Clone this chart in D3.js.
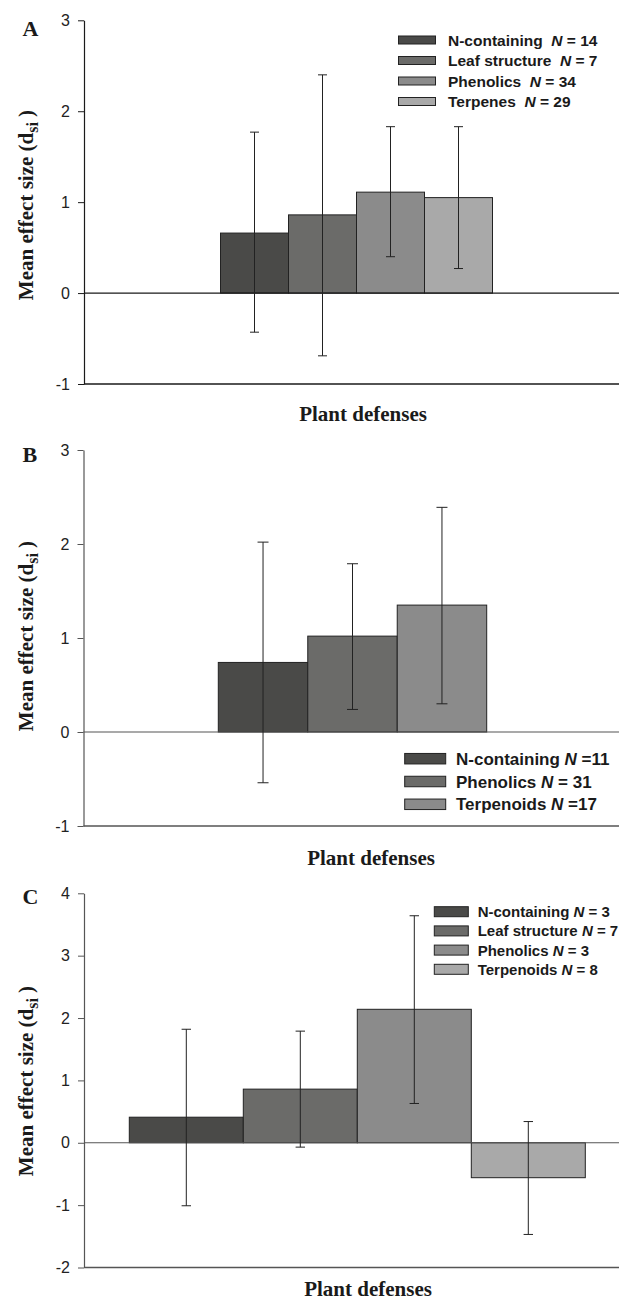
<!DOCTYPE html>
<html>
<head>
<meta charset="utf-8">
<script src="https://cdn.jsdelivr.net/npm/d3@7"></script>
<style>
  html, body { margin: 0; padding: 0; background: #fff; }
  svg { display: block; }
</style>
</head>
<body>
<svg id="chart" width="619" height="1302"></svg>
<script>
// ---------- DATA ----------
// Panel A
const categoriesA = ["N-containing", "Leaf structure", "Phenolics", "Terpenes"];
const nA = [14, 7, 34, 29];
const nSepA = ["  ", "  ", "  ", "  "];
const eqA = [" = 14", " = 7", " = 34", " = 29"];
const meansA = [0.66, 0.86, 1.11, 1.05];
const lowerA = [-0.43, -0.69, 0.40, 0.27];
const upperA = [1.77, 2.40, 1.83, 1.83];
const ticksA = [-1, 0, 1, 2, 3];

// Panel B
const categoriesB = ["N-containing", "Phenolics", "Terpenoids"];
const nB = [11, 31, 17];
const nSepB = [" ", " ", " "];
const eqB = [" =11", " = 31", " =17"];
const meansB = [0.74, 1.02, 1.35];
const lowerB = [-0.54, 0.24, 0.30];
const upperB = [2.02, 1.79, 2.39];
const ticksB = [-1, 0, 1, 2, 3];

// Panel C
const categoriesC = ["N-containing", "Leaf structure", "Phenolics", "Terpenoids"];
const nC = [3, 7, 3, 8];
const nSepC = [" ", " ", " ", " "];
const eqC = [" = 3", " = 7", " = 3", " = 8"];
const meansC = [0.41, 0.86, 2.14, -0.56];
const lowerC = [-1.01, -0.07, 0.63, -1.47];
const upperC = [1.82, 1.79, 3.64, 0.34];
const ticksC = [-2, -1, 0, 1, 2, 3, 4];

const panelLetters = ["A", "B", "C"];
const xTitle = "Plant defenses";
const barColors4 = ["#4a4a48", "#6b6b69", "#8b8b8b", "#a9a9a9"];
const barColors3 = ["#4a4a48", "#6b6b69", "#8b8b8b"];

// ---------- LAYOUT ----------
const panels = [
  { letter: panelLetters[0], cats: categoriesA, means: meansA, lower: lowerA, upper: upperA, ticks: ticksA,
    n: nA, sep: nSepA, eq: eqA, colors: barColors4,
    top: 20.3, bottom: 384, axisX: 84, right: 619, bars: [220.5, 492.5], cap: 4.5, axisColor: "#1a1a1a",
    legend: { x: 398.5, y0: 40, dy: 20.5, w: 37, h: 8, fs: 15.5, textX: 448 },
    title: { x: 363, y: 421 }, ylabY: 205, letterY: 36 },
  { letter: panelLetters[1], cats: categoriesB, means: meansB, lower: lowerB, upper: upperB, ticks: ticksB,
    n: nB, sep: nSepB, eq: eqB, colors: barColors3,
    top: 450, bottom: 826, axisX: 83.5, right: 619, bars: [218.3, 486.7], cap: 5.5, axisColor: "#555",
    legend: { x: 404.7, y0: 758.7, dy: 22.8, w: 41, h: 10.5, fs: 17, textX: 456 },
    title: { x: 371, y: 864.5 }, ylabY: 636, letterY: 461.7 },
  { letter: panelLetters[2], cats: categoriesC, means: meansC, lower: lowerC, upper: upperC, ticks: ticksC,
    n: nC, sep: nSepC, eq: eqC, colors: barColors4,
    top: 893.3, bottom: 1267.5, axisX: 84, right: 619, bars: [129.3, 585.3], cap: 4.7, axisColor: "#555",
    legend: { x: 434.3, y0: 911.7, dy: 19.2, w: 34, h: 10, fs: 15, textX: 477.7 },
    title: { x: 368, y: 1295.5 }, ylabY: 1081, letterY: 904 }
];

const svg = d3.select("#chart");
const serif = "'Liberation Serif', 'Times New Roman', serif";
const sans = "'Liberation Sans', Arial, Helvetica, sans-serif";

panels.forEach(p => {
  const g = svg.append("g");
  const lo = d3.min(p.ticks), hi = d3.max(p.ticks);
  const y = d3.scaleLinear().domain([lo, hi]).range([p.bottom, p.top]);
  const x = d3.scaleBand().domain(p.cats).range(p.bars).paddingInner(0).paddingOuter(0);

  // Y axis
  const yAxis = d3.axisLeft(y).tickValues(p.ticks).tickSize(6).tickSizeOuter(0).tickPadding(8)
    .tickFormat(d3.format("d"));
  const ag = g.append("g").attr("transform", `translate(${p.axisX},0)`).call(yAxis);
  ag.attr("font-size", 16).attr("font-family", sans);
  ag.selectAll("path.domain").attr("stroke", p.axisColor).attr("stroke-width", 1.2);
  ag.selectAll(".tick line").attr("stroke", p.axisColor).attr("stroke-width", 1);
  ag.selectAll(".tick text").attr("font-family", sans).attr("font-size", 16).attr("fill", "#222")
    .text(d => d < 0 ? "-" + Math.abs(d) : d);

  // Bottom axis line
  g.append("line").attr("x1", p.axisX).attr("x2", p.right).attr("y1", y(lo)).attr("y2", y(lo))
    .attr("stroke", p.axisColor).attr("stroke-width", 1.3);

  // Bars
  g.selectAll("rect.bar").data(p.cats).enter().append("rect")
    .attr("class", "bar")
    .attr("x", d => x(d))
    .attr("width", x.bandwidth())
    .attr("y", (d, i) => Math.min(y(p.means[i]), y(0)))
    .attr("height", (d, i) => Math.abs(y(p.means[i]) - y(0)))
    .attr("fill", (d, i) => p.colors[i])
    .attr("stroke", "#222").attr("stroke-width", 1);

  // Zero line
  g.append("line").attr("x1", p.axisX).attr("x2", p.right).attr("y1", y(0)).attr("y2", y(0))
    .attr("stroke", p.axisColor).attr("stroke-width", 1.2);

  // Error bars
  const eg = g.selectAll("g.err").data(p.cats).enter().append("g").attr("class", "err")
    .attr("stroke", "#222").attr("stroke-width", 1);
  eg.append("line")
    .attr("x1", d => x(d) + x.bandwidth() / 2).attr("x2", d => x(d) + x.bandwidth() / 2)
    .attr("y1", (d, i) => y(p.upper[i])).attr("y2", (d, i) => y(p.lower[i]));
  eg.append("line")
    .attr("x1", d => x(d) + x.bandwidth() / 2 - p.cap).attr("x2", d => x(d) + x.bandwidth() / 2 + p.cap)
    .attr("y1", (d, i) => y(p.upper[i])).attr("y2", (d, i) => y(p.upper[i]));
  eg.append("line")
    .attr("x1", d => x(d) + x.bandwidth() / 2 - p.cap).attr("x2", d => x(d) + x.bandwidth() / 2 + p.cap)
    .attr("y1", (d, i) => y(p.lower[i])).attr("y2", (d, i) => y(p.lower[i]));

  // Legend
  const L = p.legend;
  const lg = g.selectAll("g.leg").data(p.cats).enter().append("g").attr("class", "leg")
    .attr("transform", (d, i) => `translate(0,${L.y0 + i * L.dy})`);
  lg.append("rect").attr("x", L.x).attr("y", -L.h / 2).attr("width", L.w).attr("height", L.h)
    .attr("fill", (d, i) => p.colors[i]).attr("stroke", "#222").attr("stroke-width", 1);
  const lt = lg.append("text").attr("x", L.textX).attr("y", 0).attr("dy", "0.36em")
    .attr("font-family", sans).attr("font-size", L.fs).attr("font-weight", "bold").attr("fill", "#1a1a1a")
    .attr("xml:space", "preserve").style("white-space", "pre");
  lt.append("tspan").text((d, i) => d + p.sep[i]);
  lt.append("tspan").attr("font-style", "italic").text("N");
  lt.append("tspan").text((d, i) => p.eq[i]);

  // X title
  g.append("text").attr("x", p.title.x).attr("y", p.title.y).attr("text-anchor", "middle")
    .attr("font-family", serif).attr("font-weight", "bold").attr("font-size", 21).attr("fill", "#1a1a1a")
    .text(xTitle);

  // Y title
  const yt = g.append("text").attr("transform", `translate(33,${p.ylabY}) rotate(-90)`)
    .attr("text-anchor", "middle")
    .attr("font-family", serif).attr("font-weight", "bold").attr("font-size", 21).attr("fill", "#1a1a1a")
    .attr("xml:space", "preserve").style("white-space", "pre");
  yt.append("tspan").text("Mean effect size (d");
  yt.append("tspan").attr("font-size", 16).attr("dy", 5).text("si");
  yt.append("tspan").attr("dy", -5).text(" )");

  // Panel letter
  g.append("text").attr("x", 22.5).attr("y", p.letterY)
    .attr("font-family", serif).attr("font-weight", "bold").attr("font-size", 22).attr("fill", "#1a1a1a")
    .text(p.letter);
});
</script>
</body>
</html>
